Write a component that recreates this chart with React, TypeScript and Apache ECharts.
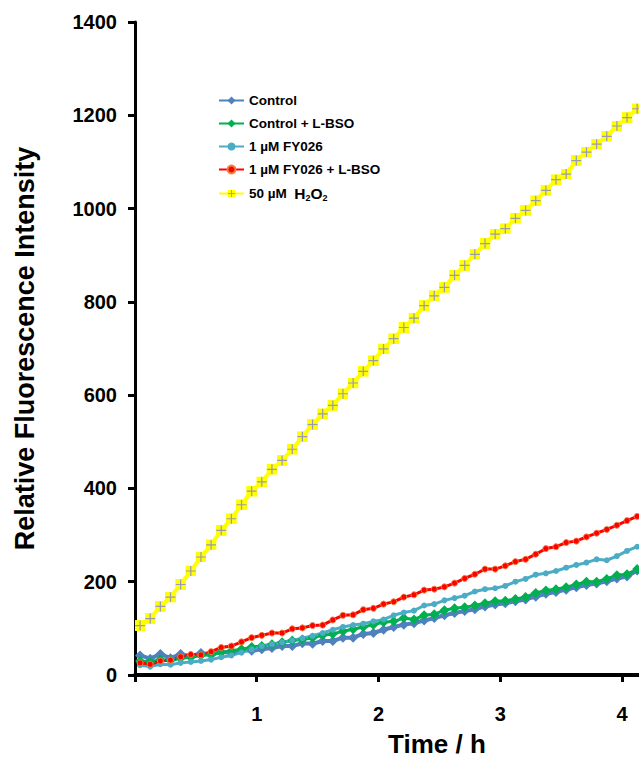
import React, { useEffect, useRef } from "react";
import * as echarts from "echarts";

// sampling times (minutes), 5-min intervals, Excel category centres
const timeMin = [
  2.5, 7.5, 12.5, 17.5, 22.5, 27.5, 32.5, 37.5, 42.5, 47.5,
  52.5, 57.5, 62.5, 67.5, 72.5, 77.5, 82.5, 87.5, 92.5, 97.5,
  102.5, 107.5, 112.5, 117.5, 122.5, 127.5, 132.5, 137.5, 142.5, 147.5,
  152.5, 157.5, 162.5, 167.5, 172.5, 177.5, 182.5, 187.5, 192.5, 197.5,
  202.5, 207.5, 212.5, 217.5, 222.5, 227.5, 232.5, 237.5, 242.5, 247.5,
];

const control = [
  42, 35, 45, 36, 45, 40, 47, 43, 50, 47,
  54, 52, 55, 58, 62, 62, 68, 67, 73, 73,
  80, 80, 88, 90, 97, 103, 108, 111, 117, 122,
  128, 133, 137, 141, 147, 151, 154, 158, 162, 168,
  174, 178, 183, 188, 193, 196, 201, 207, 211, 224,
];
const controlBSO = [
  30, 28, 33, 31, 36, 38, 42, 44, 48, 52,
  55, 60, 62, 66, 70, 74, 76, 80, 85, 88,
  94, 98, 103, 108, 113, 115, 122, 119, 128, 130,
  139, 143, 145, 149, 154, 158, 159, 163, 167, 176,
  181, 184, 188, 194, 200, 200, 206, 214, 216, 227,
];
const fy026 = [
  21, 18, 23, 22, 26, 28, 30, 33, 38, 42,
  48, 55, 62, 66, 70, 74, 79, 84, 90, 97,
  103, 107, 110, 115, 119, 128, 134, 138, 149, 152,
  160, 165, 170, 179, 184, 186, 191, 200, 206, 215,
  218, 223, 230, 236, 241, 248, 246, 255, 266, 275,
];
const fy026BSO = [
  26, 23, 30, 32, 39, 44, 43, 50, 59, 62,
  71, 80, 85, 90, 90, 99, 101, 106, 107, 118,
  128, 129, 140, 143, 152, 157, 167, 172, 182, 184,
  189, 197, 207, 216, 227, 227, 234, 243, 248, 259,
  271, 275, 284, 287, 296, 304, 312, 321, 331, 340,
];
const h2o2 = [
  106, 121, 147, 167, 194, 223, 253, 279, 310, 335,
  365, 394, 414, 441, 460, 484, 511, 537, 560, 578,
  603, 626, 651, 674, 699, 721, 745, 765, 792, 813,
  831, 857, 878, 902, 925, 945, 957, 979, 996, 1017,
  1039, 1062, 1074, 1103, 1121, 1138, 1155, 1177, 1195, 1214,
];

const seriesNames = [
  "Control",
  "Control + L-BSO",
  "1 µM FY026",
  "1 µM FY026 + L-BSO",
  "50 µM H2O2",
];
const yTicks = [0, 200, 400, 600, 800, 1000, 1200, 1400];
const xTickLabels = ["1", "2", "3", "4"];

const plusSvg =
  '<svg xmlns="http://www.w3.org/2000/svg" width="10" height="10" viewBox="0 0 10 10">' +
  '<rect x="0" y="0" width="10" height="10" fill="#FFFF00"/>' +
  '<line x1="5" y1="0.5" x2="5" y2="9.5" stroke="#9a9ab0" stroke-width="1.1"/>' +
  '<line x1="0.5" y1="5" x2="9.5" y2="5" stroke="#9a9ab0" stroke-width="1.1"/>' +
  "</svg>";
const plusSymbol = "image://data:image/svg+xml;charset=utf-8," + encodeURIComponent(plusSvg);

export default function App() {
  const ref = useRef<HTMLDivElement>(null);
  useEffect(() => {
    if (!ref.current) return;
    const chart = echarts.init(ref.current, null, { renderer: "svg" });
    const toPairs = (vals: number[]) => vals.map((v, i) => [timeMin[i] / 60, v]);
    const font = "Arial, 'Liberation Sans', sans-serif";
    const mk = (
      name: string,
      vals: number[],
      color: string,
      symbol: string,
      symbolSize: number,
      width: number,
      borderColor?: string
    ) => ({
      name,
      type: "line",
      data: toPairs(vals),
      symbol,
      symbolSize,
      showAllSymbol: true,
      lineStyle: { color, width },
      itemStyle: { color, borderColor: borderColor || color, borderWidth: borderColor ? 1 : 0 },
      emphasis: { disabled: true },
      z: 2,
    });
    chart.setOption({
      animation: false,
      backgroundColor: "#ffffff",
      grid: { left: 135, right: 0, top: 22, bottom: 82, containLabel: false },
      legend: {
        data: seriesNames,
        orient: "vertical",
        left: 218,
        top: 93,
        padding: 0,
        itemWidth: 25,
        itemHeight: 10,
        itemGap: 8,
        selectedMode: false,
        textStyle: {
          fontFamily: font,
          fontWeight: "bold",
          fontSize: 13.5,
          color: "#000",
          lineHeight: 15,
          rich: {
            n: { fontFamily: font, fontWeight: "bold", fontSize: 13.5, lineHeight: 17, color: "#000" },
            h: { fontFamily: font, fontWeight: "bold", fontSize: 15.5, lineHeight: 17, color: "#000" },
            s: {
              fontFamily: font,
              fontWeight: "bold",
              fontSize: 9,
              lineHeight: 9,
              verticalAlign: "bottom",
              color: "#000",
            },
          },
        },
        formatter: (name: string) =>
          name === "50 µM H2O2" ? "{n|50 µM  }{h|H}{s|2}{h|O}{s|2}" : name,
      },
      xAxis: {
        type: "value",
        min: 0,
        max: 4.14,
        interval: 1,
        name: "Time / h",
        nameLocation: "middle",
        nameGap: 56,
        nameTextStyle: {
          fontFamily: font,
          fontWeight: "bold",
          fontSize: 26,
          color: "#000",
          padding: [0, 0, 0, 100],
        },
        splitLine: { show: false },
        axisLine: { show: true, lineStyle: { color: "#000", width: 4 } },
        axisTick: { show: true, inside: false, length: 7, lineStyle: { color: "#000", width: 3 } },
        axisLabel: {
          margin: 29,
          fontFamily: font,
          fontWeight: "bold",
          fontSize: 20,
          color: "#000",
          showMaxLabel: false,
          formatter: (v: number) => {
            const s = String(Math.round(v));
            return Math.abs(v - Math.round(v)) < 1e-6 && xTickLabels.includes(s) ? s : "";
          },
        },
      },
      yAxis: {
        type: "value",
        min: yTicks[0],
        max: yTicks[yTicks.length - 1],
        interval: 200,
        name: "Relative Fluorescence Intensity",
        nameLocation: "middle",
        nameGap: 97,
        nameTextStyle: { fontFamily: font, fontWeight: "bold", fontSize: 27, color: "#000" },
        splitLine: { show: false },
        axisLine: { show: true, lineStyle: { color: "#000", width: 3 } },
        axisTick: { show: true, inside: false, length: 7, lineStyle: { color: "#000", width: 3 } },
        axisLabel: {
          margin: 18,
          fontFamily: font,
          fontWeight: "bold",
          fontSize: 20,
          color: "#000",
          formatter: (v: number) => String(v),
        },
      },
      series: [
        mk(seriesNames[0], control, "#4F81BD", "diamond", 10, 4),
        mk(seriesNames[1], controlBSO, "#00B050", "diamond", 10, 3),
        mk(seriesNames[2], fy026, "#4BACC6", "circle", 6, 3),
        mk(seriesNames[3], fy026BSO, "#FF0000", "circle", 6, 3, "#F0803C"),
        mk(seriesNames[4], h2o2, "#FFFF00", plusSymbol, 11, 4),
      ],
    });
    return () => chart.dispose();
  }, []);
  return (
    <div
      ref={ref}
      style={{ position: "fixed", left: 0, top: 0, width: 639, height: 762, background: "#fff" }}
    />
  );
}
